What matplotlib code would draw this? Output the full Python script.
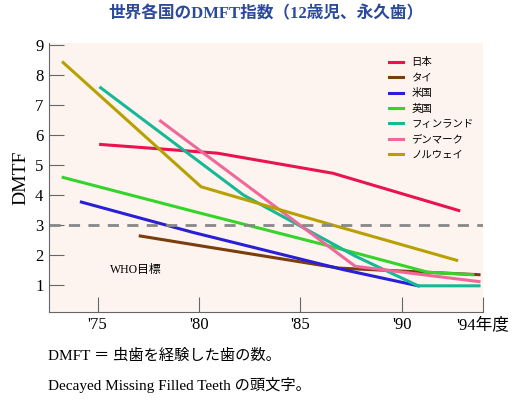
import matplotlib
matplotlib.use("Agg")
import matplotlib.pyplot as plt

plt.rcParams['font.family'] = ['Liberation Serif', 'Noto Sans CJK JP', 'DejaVu Sans']

names = ['日本', 'タイ', '米国', '英国', 'フィンランド', 'デンマーク', 'ノルウェイ']
colors = ['#e8134f', '#7a3e0c', '#2a1fd6', '#35d42a', '#17b897', '#f0679c', '#b8a000']
years = [
    [75.15, 80.9, 86.6, 92.8],
    [77.1, 80.1, 86.9, 93.8],
    [74.2, 79.7, 87.1, 90.8],
    [73.3, 79.9, 86.4, 91.3, 93.5],
    [75.15, 82.2, 87.7, 90.8, 93.8],
    [78.1, 87.7, 93.8],
    [73.3, 80.1, 86.4, 92.7],
]
values = [
    [5.68, 5.39, 4.72, 3.48],
    [2.63, 2.30, 1.56, 1.34],
    [3.76, 2.75, 1.51, 0.97],
    [4.58, 3.42, 2.30, 1.42, 1.34],
    [7.57, 3.99, 1.96, 0.97, 0.97],
    [6.46, 1.62, 1.11],
    [8.41, 4.27, 3.03, 1.82],
]
who_target = 3.0
xticks = [75, 80, 85, 90, 94]
xlabels = ["'75", "'80", "'85", "'90", "'94年度"]

fig = plt.figure(figsize=(5.32, 4.03), dpi=100)
ax = fig.add_axes([0.092, 0.226, 0.816, 0.668])
ax.set_facecolor('#fdf4ef')
for n, c, x, y in zip(names, colors, years, values):
    ax.plot(x, y, color=c, lw=2.2, label=n)
ax.axhline(who_target, color='#888888', lw=2, ls=(0, (4, 3)))
ax.text(75.6, 1.5, 'WHO目標', fontsize=8.5, va='center')

ax.set_xlim(72.6, 94.0)
ax.set_ylim(0.1, 9.07)
ax.set_yticks(range(1, 10))
ax.set_xticks(xticks)
ax.set_xticklabels(xlabels)
ax.tick_params(direction='in', length=11, color='#666666', labelsize=12)
ax.tick_params(axis='y', pad=4)
for s in ['top', 'right']:
    ax.spines[s].set_visible(False)
for s in ['left', 'bottom']:
    ax.spines[s].set_color('#666666')
ax.set_ylabel('DMTF', fontsize=14)

ax.legend(loc='upper right', frameon=False, fontsize=7.5, handlelength=1.4,
          labelspacing=0.55, bbox_to_anchor=(1.0, 0.98))

fig.text(0.5, 0.965, '世界各国のDMFT指数（12歳児、永久歯）', ha='center', va='center',
         fontsize=12, color='#2c4a9c', fontweight='bold')
fig.text(0.09, 0.117, 'DMFT ＝ 虫歯を経験した歯の数。', fontsize=11, va='center')
fig.text(0.09, 0.045, 'Decayed Missing Filled Teeth の頭文字。', fontsize=11, va='center')

fig.savefig('out.png', dpi=100)
